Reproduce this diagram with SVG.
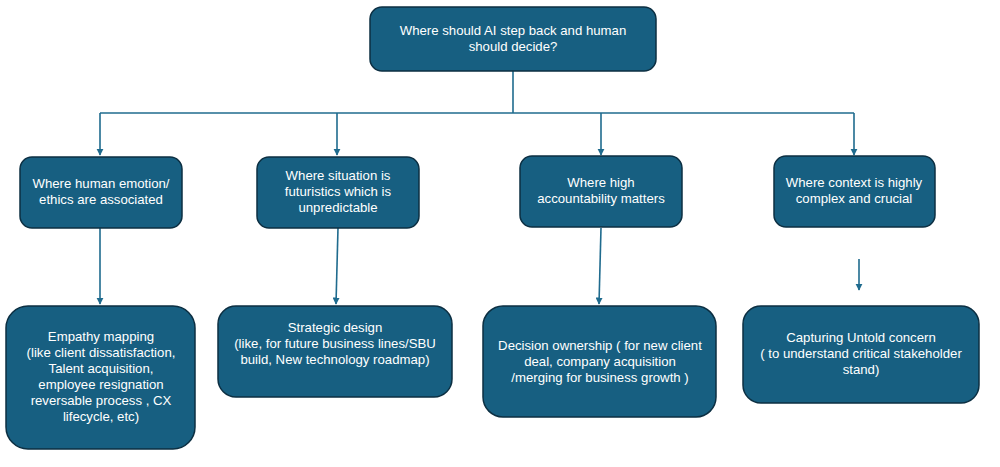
<svg xmlns="http://www.w3.org/2000/svg" width="1000" height="467" viewBox="0 0 1000 467">
<defs>
<style>
.box{fill:#175f81;stroke:#0c2f42;stroke-width:1.5}
.t{font-family:"Liberation Sans",Arial,sans-serif;font-size:13.2px;fill:#ffffff;text-anchor:middle}
.c{fill:none;stroke:#1f6b8e;stroke-width:1.6}
</style>
<marker id="ah" viewBox="0 0 10 10" refX="9" refY="5" markerWidth="4.5" markerHeight="4.5" orient="auto" markerUnits="strokeWidth">
<path d="M0,0 L10,5 L0,10 z" fill="#1f6b8e"/>
</marker>
</defs>
<rect width="1000" height="467" fill="#ffffff"/>
<g id="connectors">
<path class="c" d="M513,71 V113"/>
<path class="c" d="M100,113 H854"/>
<path class="c" d="M100,113 V155" marker-end="url(#ah)"/>
<path class="c" d="M337,113 V155" marker-end="url(#ah)"/>
<path class="c" d="M601,113 V155" marker-end="url(#ah)"/>
<path class="c" d="M854,113 V155" marker-end="url(#ah)"/>
<path class="c" d="M100,228 V304" marker-end="url(#ah)"/>
<path class="c" d="M338,228 L336,304" marker-end="url(#ah)"/>
<path class="c" d="M601,228 L599,304" marker-end="url(#ah)"/>
<path class="c" d="M859,259 V290" marker-end="url(#ah)"/>
</g>
<g id="root">
<rect class="box" x="370" y="7" width="286" height="64" rx="12"/>
<text class="t" x="513" y="35">Where should AI step back and human</text>
<text class="t" x="513" y="51">should decide?</text>
</g>
<g id="n-emotion">
<rect class="box" x="20" y="157" width="162" height="71" rx="12"/>
<text class="t" x="101" y="188">Where human emotion/</text>
<text class="t" x="101" y="204">ethics are associated</text>
</g>
<g id="n-futuristic">
<rect class="box" x="257" y="157" width="162" height="71" rx="12"/>
<text class="t" x="338" y="180">Where situation is</text>
<text class="t" x="338" y="196">futuristics which is</text>
<text class="t" x="338" y="212">unpredictable</text>
</g>
<g id="n-accountability">
<rect class="box" x="520" y="156" width="162" height="71" rx="12"/>
<text class="t" x="601" y="187">Where high</text>
<text class="t" x="601" y="203">accountability matters</text>
</g>
<g id="n-context">
<rect class="box" x="774" y="156" width="161" height="71" rx="12"/>
<text class="t" x="854" y="187">Where context is highly</text>
<text class="t" x="854" y="203">complex and crucial</text>
</g>
<g id="n-empathy">
<rect class="box" x="6" y="306" width="189" height="143" rx="22"/>
<text class="t" x="101" y="341">Empathy mapping</text>
<text class="t" x="101" y="357">(like client dissatisfaction,</text>
<text class="t" x="101" y="373">Talent acquisition,</text>
<text class="t" x="101" y="389">employee resignation</text>
<text class="t" x="101" y="405">reversable process , CX</text>
<text class="t" x="101" y="421">lifecycle, etc)</text>
</g>
<g id="n-strategic">
<rect class="box" x="218" y="306" width="234" height="91" rx="18"/>
<text class="t" x="335" y="332">Strategic design</text>
<text class="t" x="335" y="348">(like, for future business lines/SBU</text>
<text class="t" x="335" y="364">build, New technology roadmap)</text>
</g>
<g id="n-decision">
<rect class="box" x="483" y="306" width="233" height="111" rx="20"/>
<text class="t" x="600" y="350">Decision ownership ( for new client</text>
<text class="t" x="600" y="366">deal, company acquisition</text>
<text class="t" x="600" y="382">/merging for business growth )</text>
</g>
<g id="n-untold">
<rect class="box" x="743" y="306" width="236" height="97" rx="18"/>
<text class="t" x="861" y="342">Capturing Untold concern</text>
<text class="t" x="861" y="358">( to understand critical stakeholder</text>
<text class="t" x="861" y="374">stand)</text>
</g>
</svg>
